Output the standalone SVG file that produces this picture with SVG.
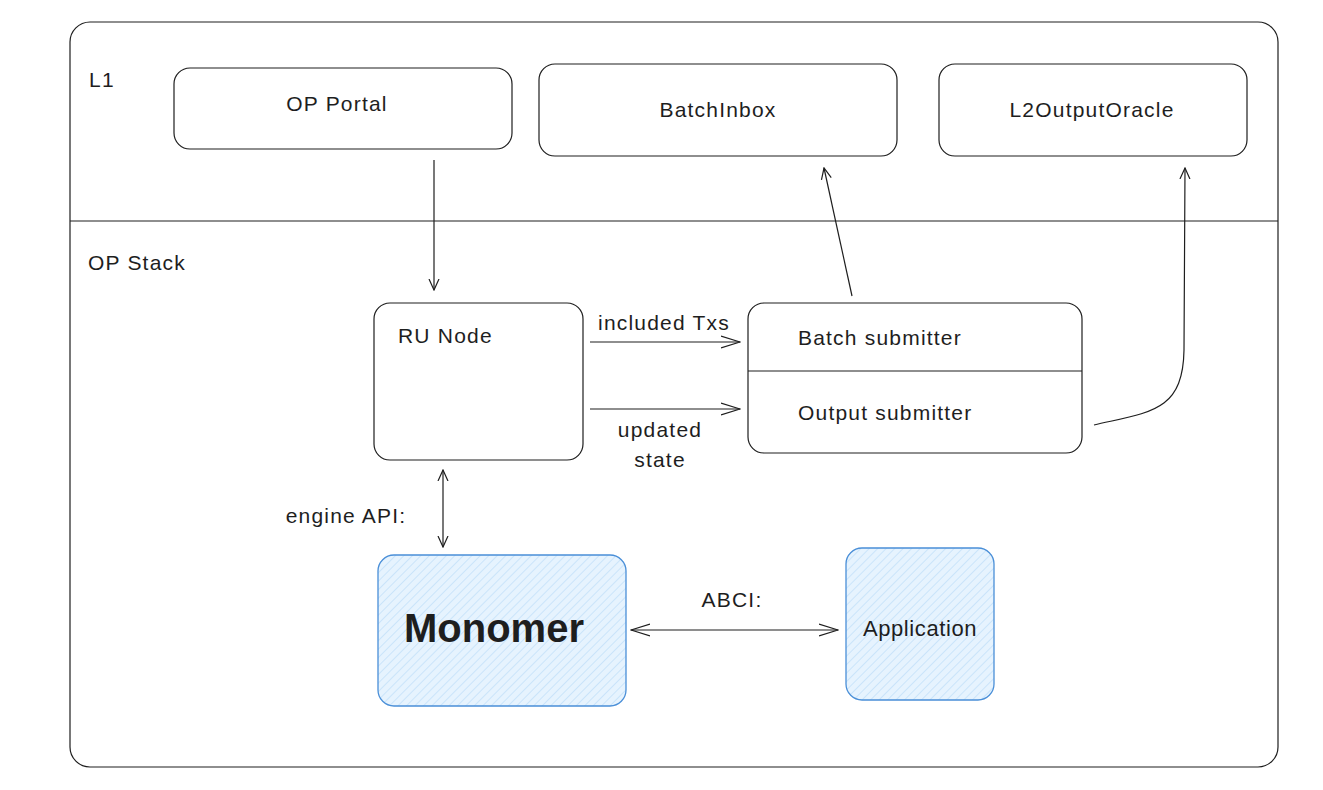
<svg xmlns="http://www.w3.org/2000/svg" width="1323" height="790" viewBox="0 0 1323 790">
<style>
.box{fill:#fff;stroke:#1e1e1e;stroke-width:1.2}
.blue{fill:url(#hatch);stroke:#4a8fd8;stroke-width:1.3}
.t{font-family:"Liberation Sans",Arial,sans-serif;font-size:21px;letter-spacing:1.2px;fill:#1e1e1e}
.c{text-anchor:middle}
.ln{fill:none;stroke:#1e1e1e;stroke-width:1.2}
</style>
<defs>
<pattern id="hatch" patternUnits="userSpaceOnUse" width="6" height="6" patternTransform="rotate(45)">
<rect width="6" height="6" fill="#e6f3fe"/>
<line x1="0" y1="0" x2="0" y2="6" stroke="#b8dbf8" stroke-width="1.2"/>
</pattern>
<marker id="arr" viewBox="0 0 12 12" refX="11" refY="6" markerWidth="12" markerHeight="12" markerUnits="userSpaceOnUse" orient="auto-start-reverse">
<path d="M0 1 L11 6 L0 11" fill="none" stroke="#1e1e1e" stroke-width="1.2"/>
</marker>
<marker id="arr2" viewBox="0 0 20 14" refX="19" refY="7" markerWidth="20" markerHeight="14" markerUnits="userSpaceOnUse" orient="auto-start-reverse">
<path d="M0 1 L19 7 L0 13" fill="none" stroke="#1e1e1e" stroke-width="1.2"/>
</marker>
</defs>

<g id="frame">
<rect x="70" y="22" width="1208" height="745" rx="20" class="box"/>
<line x1="70" y1="221" x2="1278" y2="221" class="ln"/>
<text x="89" y="87" class="t">L1</text>
<text x="88" y="270" class="t">OP Stack</text>
</g>

<g id="op-portal">
<rect x="174" y="68" width="338" height="81" rx="16" class="box"/>
<text x="337" y="111" class="t c">OP Portal</text>
</g>

<g id="batch-inbox">
<rect x="539" y="64" width="358" height="92" rx="16" class="box"/>
<text x="718" y="117" class="t c">BatchInbox</text>
</g>

<g id="l2-output-oracle">
<rect x="939" y="64" width="308" height="92" rx="16" class="box"/>
<text x="1092" y="117" class="t c">L2OutputOracle</text>
</g>

<g id="ru-node">
<rect x="374" y="303" width="209" height="157" rx="16" class="box"/>
<text x="398" y="343" class="t">RU Node</text>
</g>

<g id="submitters">
<rect x="748" y="303" width="334" height="150" rx="16" class="box"/>
<line x1="748" y1="371" x2="1082" y2="371" class="ln"/>
<text x="798" y="345" class="t">Batch submitter</text>
<text x="798" y="420" class="t">Output submitter</text>
</g>

<g id="monomer">
<rect x="378" y="555" width="248" height="151" rx="16" class="blue"/>
<text x="494" y="642" class="c" style="font-family:'Liberation Sans',Arial,sans-serif;font-size:40px;font-weight:bold;fill:#1e1e1e">Monomer</text>
</g>

<g id="application">
<rect x="846" y="548" width="148" height="152" rx="16" class="blue"/>
<text x="920" y="636" class="t c" style="font-size:22px;letter-spacing:0.6px">Application</text>
</g>

<g id="connectors">
<line x1="434" y1="160" x2="434" y2="290" class="ln" marker-end="url(#arr)"/>
<line x1="590" y1="342" x2="740" y2="342" class="ln" marker-end="url(#arr2)"/>
<line x1="590" y1="409" x2="740" y2="409" class="ln" marker-end="url(#arr2)"/>
<line x1="852" y1="296" x2="824" y2="168" class="ln" marker-end="url(#arr)"/>
<path d="M1094 425 C1150 412 1183 412 1184 350 L1185 168" class="ln" marker-end="url(#arr)"/>
<line x1="443" y1="470" x2="443" y2="547" class="ln" marker-start="url(#arr)" marker-end="url(#arr)"/>
<line x1="631" y1="630" x2="838" y2="630" class="ln" marker-start="url(#arr2)" marker-end="url(#arr2)"/>
<text x="664" y="330" class="t c">included Txs</text>
<text x="660" y="437" class="t c">updated</text>
<text x="660" y="467" class="t c">state</text>
<text x="346" y="523" class="t c">engine API:</text>
<text x="732" y="607" class="t c">ABCI:</text>
</g>
</svg>
